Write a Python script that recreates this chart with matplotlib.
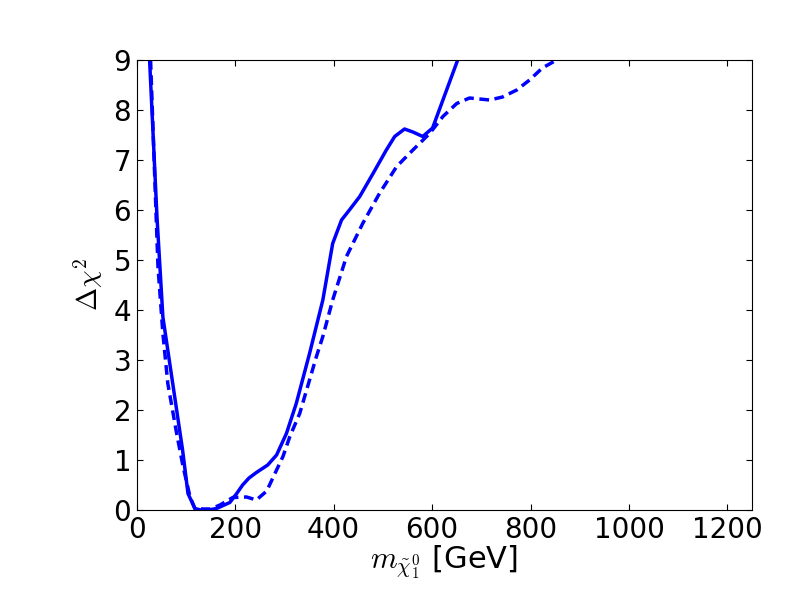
import matplotlib
matplotlib.use("Agg")
import matplotlib.pyplot as plt

plt.rcParams['mathtext.fontset'] = 'cm'
plt.rcParams['lines.scale_dashes'] = False

# solid curve
x_solid = [26, 41, 53, 73, 93, 104, 118, 130, 145, 162, 189, 203, 215, 228, 243, 266, 284, 304,
           324, 351, 378, 398, 416, 432, 453, 480, 507, 524, 544, 561, 581, 601, 622, 652]
y_solid = [9.0, 5.86, 3.86, 2.53, 1.2, 0.33, 0.03, 0.0, 0.0, 0.03, 0.15, 0.33, 0.5, 0.64, 0.75, 0.9, 1.1, 1.53,
           2.13, 3.13, 4.2, 5.33, 5.8, 6.0, 6.27, 6.73, 7.2, 7.47, 7.62, 7.56, 7.47, 7.64, 8.2, 9.0]

# dashed curve
x_dash = [28, 37, 43, 53, 63, 81, 94, 108, 118, 135, 150, 169, 195, 223, 243, 264, 284, 297,
          311, 331, 345, 365, 378, 398, 426, 459, 493, 528, 561, 595, 622, 650, 676, 717, 743,
          772, 798, 824, 853]
y_dash = [9.0, 6.5, 4.87, 3.53, 2.53, 1.53, 0.87, 0.27, 0.03, 0.02, 0.02, 0.1, 0.25, 0.26, 0.2,
          0.38, 0.8, 1.07, 1.47, 1.93, 2.4, 3.07, 3.47, 4.2, 5.07, 5.73, 6.33, 6.87, 7.2, 7.53,
          7.87, 8.13, 8.24, 8.2, 8.26, 8.4, 8.6, 8.84, 9.0]

fig = plt.figure(figsize=(8, 6), dpi=100)
ax = fig.add_axes([0.171, 0.15, 0.769, 0.75])
ax.plot(x_solid, y_solid, color='blue', lw=2.5)
ax.plot(x_dash, y_dash, color='blue', lw=2.5, linestyle='--', dashes=(7, 4))

ax.set_xlim(0, 1250)
ax.set_ylim(0, 9)
ax.set_xticks([0, 200, 400, 600, 800, 1000, 1200])
ax.set_yticks(range(0, 10))
ax.tick_params(direction='in', top=True, right=True, length=4, labelsize=20, pad=4)
ax.set_xlabel(r'$m_{\tilde{\chi}_1^0}$ [GeV]', fontsize=22, labelpad=0)
ax.set_ylabel(r'$\Delta\chi^2$', fontsize=20, labelpad=6)

fig.savefig('out.png', dpi=100, facecolor='white')
